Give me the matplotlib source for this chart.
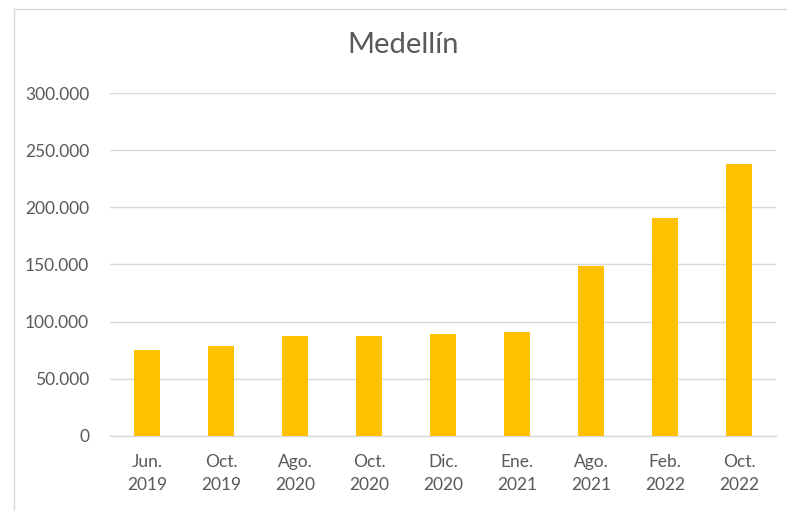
import matplotlib.pyplot as plt
from matplotlib.ticker import FuncFormatter
from matplotlib.lines import Line2D

# Data
labels = ["Jun.\n2019", "Oct.\n2019", "Ago.\n2020", "Oct.\n2020", "Dic.\n2020",
          "Ene.\n2021", "Ago.\n2021", "Feb.\n2022", "Oct.\n2022"]
values = [75500, 78300, 87300, 87300, 88800, 90800, 148700, 190600, 238300]
yticks = [0, 50000, 100000, 150000, 200000, 250000, 300000]

plt.rcParams['font.family'] = ['Lato', 'DejaVu Sans']
text_color = '#595959'
grid_color = '#d9d9d9'

fig = plt.figure(figsize=(7.87, 5.11), dpi=100)
ax = fig.add_axes([0.1398, 0.1468, 0.8462, 0.6712])

x = range(len(values))
ax.bar(x, values, width=0.34, color='#FFC000', zorder=3)

ax.set_xlim(-0.5, len(values) - 0.5)
ax.set_ylim(0, 300000)
ax.set_yticks(yticks)
ax.yaxis.set_major_formatter(FuncFormatter(lambda v, p: f"{int(v):,}".replace(",", ".")))
ax.set_xticks(list(x))
ax.set_xticklabels(labels, linespacing=1.55)

ax.grid(axis='y', color=grid_color, linewidth=1, zorder=0)
for s in ['top', 'right', 'left']:
    ax.spines[s].set_visible(False)
ax.spines['bottom'].set_color(grid_color)
ax.spines['bottom'].set_linewidth(1)
ax.tick_params(axis='both', length=0, colors=text_color, labelsize=12.5)
ax.tick_params(axis='y', pad=15)
ax.tick_params(axis='x', pad=13)

fig.text(0.512, 0.912, "Medellín", ha='center', va='center', fontsize=21, color=text_color)

# chart area border
fig.add_artist(Line2D([0.018, 0.018, 1.0], [0.0, 0.982, 0.982],
                      transform=fig.transFigure, color=grid_color, linewidth=1))

fig.savefig("out.png", dpi=100)
